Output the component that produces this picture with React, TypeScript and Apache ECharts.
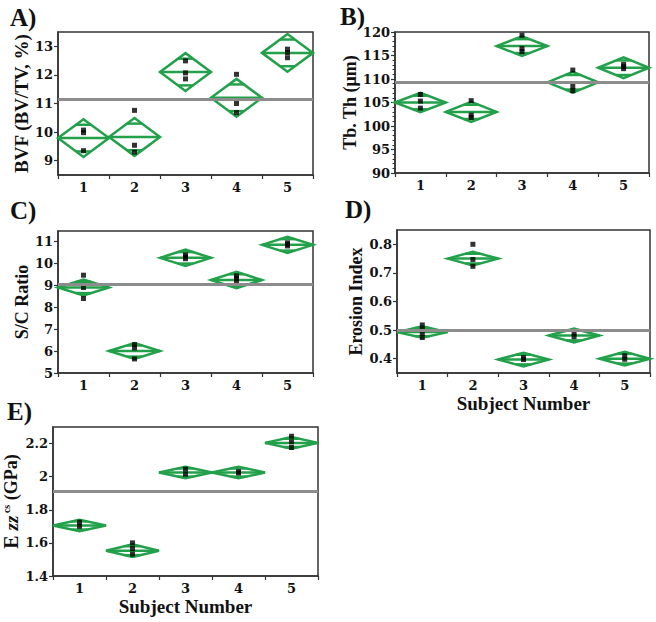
import React, { useEffect, useRef } from "react";
import * as echarts from "echarts";

const categories = ["1", "2", "3", "4", "5"];

// Panel A: BVF
const aMeans = [9.79, 9.83, 12.1, 11.2, 12.77];
const aHalfCI = [0.66, 0.66, 0.66, 0.66, 0.66];
const aPoints = [[10.07, 9.98, 9.35], [10.76, 9.54, 9.3], [12.49, 12.07, 11.86], [12.02, 11.0, 10.68], [12.9, 12.78, 12.6]];
const aGrand = 11.15;
const aTicks = [9, 10, 11, 12, 13];

// Panel B: Tb.Th
const bMeans = [105.0, 103.0, 117.0, 109.3, 112.4];
const bHalfCI = [2.05, 2.15, 2.1, 2.2, 2.2];
const bPoints = [[106.7, 105.3, 103.8], [105.4, 102.3, 101.8], [119.3, 116.5, 115.8], [111.9, 108.4, 107.5], [113.1, 112.6, 112.2]];
const bGrand = 109.4;
const bTicks = [90, 95, 100, 105, 110, 115, 120];

// Panel C: S/C ratio
const cMeans = [8.89, 6.0, 10.24, 9.23, 10.83];
const cHalfCI = [0.36, 0.36, 0.37, 0.37, 0.37];
const cPoints = [[9.45, 8.89, 8.39], [6.29, 6.14, 5.64], [10.37, 10.28, 10.2], [9.42, 9.3, 9.17], [10.92, 10.85, 10.78]];
const cGrand = 9.02;
const cTicks = [5, 6, 7, 8, 9, 10, 11];

// Panel D: Erosion index
const dMeans = [0.493, 0.75, 0.397, 0.481, 0.4];
const dHalfCI = [0.02, 0.024, 0.024, 0.024, 0.024];
const dPoints = [[0.518, 0.503, 0.489, 0.474], [0.8, 0.747, 0.723], [0.404, 0.397], [0.49, 0.477], [0.41, 0.398]];
const dGrand = 0.504;
const dTicks = [0.4, 0.5, 0.6, 0.7, 0.8];

// Panel E: Ezz cs
const eMeans = [1.705, 1.553, 2.025, 2.025, 2.204];
const eHalfCI = [0.035, 0.038, 0.035, 0.035, 0.035];
const ePoints = [[1.725, 1.7], [1.6, 1.566, 1.532], [2.045, 2.015], [2.03, 2.022], [2.244, 2.21, 2.176]];
const eGrand = 1.909;
const eTicks = [1.4, 1.6, 1.8, 2, 2.2];

const GREEN = "#22a04a";
const GRAY = "#8c8c8c";
const FRAME = "#333333";
const TICK_FONT = "DejaVu Serif";
const TITLE_FONT = "Liberation Serif";

type Panel = {
  means: number[];
  half: number[];
  points: number[][];
  grand: number;
  ticks: number[];
  min: number;
  max: number;
  grid: { left: number; top: number; width: number; height: number };
  yName: string;
  yGap: number;
  xName?: string;
  minor?: boolean;
  rich?: boolean;
};

const panels: Panel[] = [
  { means: aMeans, half: aHalfCI, points: aPoints, grand: aGrand, ticks: aTicks, min: 8.5, max: 13.5,
    grid: { left: 58, top: 32, width: 255, height: 143 }, yName: "BVF (BV/TV, %)", yGap: 24 },
  { means: bMeans, half: bHalfCI, points: bPoints, grand: bGrand, ticks: bTicks, min: 90, max: 120,
    grid: { left: 395, top: 32, width: 254, height: 141 }, yName: "Tb. Th (\u03bcm)", yGap: 36, minor: true },
  { means: cMeans, half: cHalfCI, points: cPoints, grand: cGrand, ticks: cTicks, min: 5, max: 11.46,
    grid: { left: 58, top: 231, width: 255, height: 142 }, yName: "S/C Ratio", yGap: 24 },
  { means: dMeans, half: dHalfCI, points: dPoints, grand: dGrand, ticks: dTicks, min: 0.35, max: 0.85,
    grid: { left: 397, top: 230, width: 253, height: 143 }, yName: "Erosion Index", yGap: 31, xName: "Subject Number" },
  { means: eMeans, half: eHalfCI, points: ePoints, grand: eGrand, ticks: eTicks, min: 1.4, max: 2.3,
    grid: { left: 53, top: 427, width: 265, height: 149 },
    yName: "{e|E }{i|zz}{s| cs}{n| (GPa)}", yGap: 30, xName: "Subject Number", rich: true },
];

const letters = [
  { t: "A)", x: 10, y: 5 },
  { t: "B)", x: 340, y: 4 },
  { t: "C)", x: 10, y: 198 },
  { t: "D)", x: 345, y: 197 },
  { t: "E)", x: 7, y: 399 },
];

function renderDiamond(params: any, api: any) {
  const ci = api.value(0);
  const m = api.value(1);
  const h = api.value(2);
  const c = api.coord([ci, m]);
  const top = api.coord([ci, m + h])[1];
  const bot = api.coord([ci, m - h])[1];
  const bw = api.size([1, 0])[0];
  const hw = bw / 2;
  const dy = (bot - top) / 2;
  const oy = dy / Math.SQRT2;
  const ow = hw * (1 - 1 / Math.SQRT2);
  const st = { stroke: GREEN, lineWidth: 2.5, fill: "none" };
  return {
    type: "group",
    children: [
      { type: "polygon", shape: { points: [[c[0] - hw, c[1]], [c[0], top], [c[0] + hw, c[1]], [c[0], bot]] }, style: st },
      { type: "line", shape: { x1: c[0] - hw, y1: c[1], x2: c[0] + hw, y2: c[1] }, style: st },
      { type: "line", shape: { x1: c[0] - ow, y1: c[1] - oy, x2: c[0] + ow, y2: c[1] - oy }, style: st },
      { type: "line", shape: { x1: c[0] - ow, y1: c[1] + oy, x2: c[0] + ow, y2: c[1] + oy }, style: st },
    ],
  };
}

export default function App() {
  const ref = useRef<HTMLDivElement>(null);
  useEffect(() => {
    if (!ref.current) return;
    const chart = echarts.init(ref.current, null, { renderer: "svg" });
    const grids: any[] = [];
    const xAxes: any[] = [];
    const yAxes: any[] = [];
    const series: any[] = [];
    panels.forEach((p, i) => {
      grids.push({ ...p.grid, show: true, borderColor: FRAME, borderWidth: 1.5, backgroundColor: "transparent", containLabel: false, outerBoundsMode: "none" });
      xAxes.push({
        type: "category", gridIndex: i, data: categories, boundaryGap: true,
        axisLine: { show: true, lineStyle: { color: FRAME, width: 1.5 } },
        axisTick: { show: true, length: 4, lineStyle: { color: FRAME, width: 1.2 } },
        axisLabel: { color: "#111", fontFamily: TICK_FONT, fontWeight: "bold", fontSize: 13, margin: 6 },
        splitLine: { show: false },
        name: p.xName || "", nameLocation: "middle", nameGap: 21,
        nameTextStyle: { color: "#111", fontFamily: TITLE_FONT, fontWeight: "bold", fontSize: 19 },
      });
      const richStyles = {
        e: { fontFamily: TITLE_FONT, fontWeight: "bold", fontSize: 20, color: "#111" },
        n: { fontFamily: TITLE_FONT, fontWeight: "bold", fontSize: 18, color: "#111" },
        i: { fontFamily: TITLE_FONT, fontWeight: "bold", fontStyle: "italic", fontSize: 19, color: "#111" },
        s: { fontFamily: TITLE_FONT, fontWeight: "bold", fontSize: 10, color: "#111", verticalAlign: "top" },
      };
      yAxes.push({
        type: "value", gridIndex: i, min: p.min, max: p.max,
        axisLine: { show: true, lineStyle: { color: FRAME, width: 1.5 } },
        axisTick: { show: true, length: 4, customValues: p.ticks, lineStyle: { color: FRAME, width: 1.2 } },
        minorTick: { show: !!p.minor, splitNumber: 5, length: 2.5, lineStyle: { color: FRAME, width: 1 } },
        axisLabel: { customValues: p.ticks, color: "#111", fontFamily: TICK_FONT, fontWeight: "bold", fontSize: 13, margin: 5 },
        splitLine: { show: false },
        name: p.yName, nameLocation: "middle", nameGap: p.yGap, nameRotate: 90,
        nameTextStyle: p.rich
          ? { color: "#111", rich: richStyles }
          : { color: "#111", fontFamily: TITLE_FONT, fontWeight: "bold", fontSize: i === 0 ? 19 : 18 },
      });
      series.push({
        type: "scatter", xAxisIndex: i, yAxisIndex: i, data: [], z: 1, silent: true,
        markLine: {
          silent: true, symbol: "none", label: { show: false }, animation: false,
          lineStyle: { color: GRAY, width: 2.8, type: "solid" },
          data: [{ yAxis: p.grand }],
        },
      });
      series.push({
        type: "custom", xAxisIndex: i, yAxisIndex: i, z: 2, silent: true,
        renderItem: renderDiamond,
        data: p.means.map((m, k) => [k, m, p.half[k]]),
      });
      const pts: number[][] = [];
      p.points.forEach((arr, k) => arr.forEach((v) => pts.push([k, v])));
      series.push({
        type: "scatter", xAxisIndex: i, yAxisIndex: i, z: 3, silent: true,
        symbol: "rect", symbolSize: [5, 5], itemStyle: { color: "#000" },
        data: pts,
      });
    });
    chart.setOption({
      animation: false,
      backgroundColor: "#ffffff",
      grid: grids,
      xAxis: xAxes,
      yAxis: yAxes,
      series,
      graphic: letters.map((l) => ({
        type: "text", x: l.x, y: l.y, silent: true,
        style: { text: l.t, fill: "#111", font: `bold 25px ${TITLE_FONT}`, textVerticalAlign: "top" },
      })),
    });
    return () => chart.dispose();
  }, []);
  return <div ref={ref} style={{ position: "fixed", left: 0, top: 0, width: 656, height: 622, background: "#fff" }} />;
}
